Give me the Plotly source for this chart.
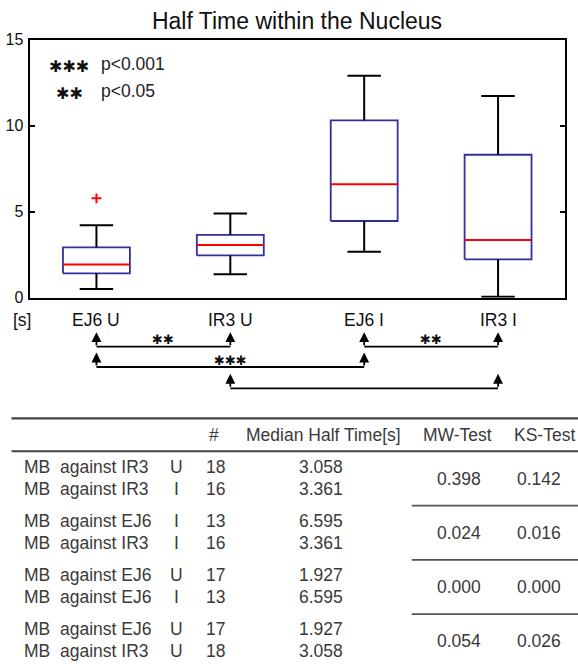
import plotly.graph_objects as go

# ---------------- data ----------------
categories = ["EJ6 U", "IR3 U", "EJ6 I", "IR3 I"]
q1 = [1.42, 2.46, 4.46, 2.23]
medians = [1.927, 3.058, 6.595, 3.361]
q3 = [2.93, 3.65, 10.31, 8.31]
whisker_low = [0.51, 1.36, 2.67, 0.06]
whisker_high = [4.21, 4.90, 12.90, 11.73]
outlier_cat = [1]
outlier_val = [5.78]

y_ticks = [0, 5, 10, 15]

# significance brackets (category index pairs, 1-based) and their labels
bracket_left = [1, 3, 1, 2]
bracket_right = [2, 4, 3, 4]
bracket_label = ["✱✱", "✱✱", "✱✱✱", ""]

legend_stars = ["✱✱✱", "✱✱"]
legend_text = ["p<0.001", "p<0.05"]

# table
tbl_header = ["#", "Median Half Time[s]", "MW-Test", "KS-Test"]
tbl_label = ["MB\u00a0\u00a0against IR3", "MB\u00a0\u00a0against IR3",
             "MB\u00a0\u00a0against EJ6", "MB\u00a0\u00a0against IR3",
             "MB\u00a0\u00a0against EJ6", "MB\u00a0\u00a0against EJ6",
             "MB\u00a0\u00a0against EJ6", "MB\u00a0\u00a0against IR3"]
tbl_state = ["U", "I", "I", "I", "U", "I", "U", "U"]
tbl_n = [18, 16, 13, 16, 17, 13, 17, 18]
tbl_median = [3.058, 3.361, 6.595, 3.361, 1.927, 6.595, 1.927, 3.058]
tbl_mw = [0.398, 0.024, 0.000, 0.054]
tbl_ks = [0.142, 0.016, 0.000, 0.026]

# ---------------- layout helpers ----------------
W, H = 578, 667
def yp(px):
    return 1 - px / H
def xp(px):
    return px / W

FONT = "Arial, Liberation Sans, Helvetica, sans-serif"
STAR_FONT = "DejaVu Sans"
BOX_C = "#30309a"
BOX_HW = 0.25
CAP_HW = 0.125
pos = list(range(1, len(categories) + 1))

fig = go.Figure()

# boxes
bx, by = [], []
for p, a, b in zip(pos, q1, q3):
    bx += [p - BOX_HW, p + BOX_HW, p + BOX_HW, p - BOX_HW, p - BOX_HW, None]
    by += [a, a, b, b, a, None]
fig.add_trace(go.Scatter(x=bx, y=by, mode="lines", line=dict(color=BOX_C, width=1.8),
                         hoverinfo="skip", showlegend=False))

# whiskers
wx, wy = [], []
for p, a, b, lo, hi in zip(pos, q1, q3, whisker_low, whisker_high):
    wx += [p, p, None, p, p, None, p - CAP_HW, p + CAP_HW, None, p - CAP_HW, p + CAP_HW, None]
    wy += [b, hi, None, a, lo, None, hi, hi, None, lo, lo, None]
fig.add_trace(go.Scatter(x=wx, y=wy, mode="lines", line=dict(color="black", width=2),
                         hoverinfo="skip", showlegend=False))

# medians
mx, my = [], []
for p, m in zip(pos, medians):
    mx += [p - BOX_HW, p + BOX_HW, None]
    my += [m, m, None]
fig.add_trace(go.Scatter(x=mx, y=my, mode="lines", line=dict(color="red", width=2),
                         hoverinfo="skip", showlegend=False))

# outliers
fig.add_trace(go.Scatter(x=outlier_cat, y=outlier_val, mode="markers",
                         marker=dict(symbol="cross-thin", size=7, line=dict(color="red", width=2)),
                         hoverinfo="skip", showlegend=False))

annotations = []
shapes = []

# category labels
for p, c in zip(pos, categories):
    annotations.append(dict(x=p, xref="x", y=yp(319.5), yref="paper", text=c, showarrow=False,
                            xanchor="center", yanchor="middle", font=dict(size=17.5, color="#111")))
annotations.append(dict(x=xp(21.7), xref="paper", y=yp(319.5), yref="paper", text="[s]", showarrow=False,
                        xanchor="center", yanchor="middle", font=dict(size=17.5, color="#111")))

# legend
leg_y = [66.5, 93.5]
leg_ty = [64.5, 91.5]
for s, t, y1, y2 in zip(legend_stars, legend_text, leg_y, leg_ty):
    annotations.append(dict(x=xp(69), xref="paper", y=yp(y1), yref="paper", text=s,
                            showarrow=False, xanchor="center", yanchor="middle",
                            font=dict(size=16, color="#111", family=STAR_FONT)))
    annotations.append(dict(x=xp(99), xref="paper", y=yp(y2), yref="paper", text=t,
                            showarrow=False, xanchor="left", yanchor="middle",
                            font=dict(size=17.5, color="#222")))

# brackets
line_y = [346.7, 346.7, 367.0, 388.3]
lab_y = [339.5, 339.5, 360.5, 0]
for L, R, lab, ly, ty in zip(bracket_left, bracket_right, bracket_label, line_y, lab_y):
    shapes.append(dict(type="line", xref="x", yref="paper", x0=L, x1=R, y0=yp(ly), y1=yp(ly),
                       line=dict(color="black", width=1.8)))
    for p in (L, R):
        annotations.append(dict(x=p, xref="x", y=yp(ly - 14.5), yref="paper", ax=0, ay=14.5,
                                axref="pixel", ayref="pixel", text="", showarrow=True,
                                arrowhead=2, arrowsize=1.1, arrowwidth=1.8, arrowcolor="black",
                                standoff=0, startstandoff=0))
    if lab:
        annotations.append(dict(x=(L + R) / 2, xref="x", y=yp(ty), yref="paper",
                                text=lab, showarrow=False, xanchor="center",
                                yanchor="middle", font=dict(size=13, color="#111", family=STAR_FONT)))

# ---------------- table ----------------
TC = "#3a3a3a"
TF = 17.5
shapes.append(dict(type="line", xref="paper", yref="paper", x0=xp(11.5), x1=1, y0=yp(418.3), y1=yp(418.3),
                   line=dict(color="#444", width=2.2)))
shapes.append(dict(type="line", xref="paper", yref="paper", x0=xp(11.5), x1=1, y0=yp(451.3), y1=yp(451.3),
                   line=dict(color="#444", width=2)))
hdr_x = [214, 323, 457.5, 544]
for t, x in zip(tbl_header, hdr_x):
    annotations.append(dict(x=xp(x), xref="paper", y=yp(435), yref="paper", text=t, showarrow=False,
                            xanchor="center", yanchor="middle", font=dict(size=TF, color=TC)))

for i in range(len(tbl_label)):
    g, r = divmod(i, 2)
    y = 466.7 + 54.2 * g + 21.8 * r
    annotations.append(dict(x=xp(21.7), xref="paper", y=yp(y), yref="paper", text=tbl_label[i],
                            showarrow=False, xanchor="left", yanchor="middle", font=dict(size=TF, color=TC)))
    annotations.append(dict(x=xp(177), xref="paper", y=yp(y), yref="paper", text=tbl_state[i],
                            showarrow=False, xanchor="center", yanchor="middle", font=dict(size=TF, color=TC)))
    annotations.append(dict(x=xp(215), xref="paper", y=yp(y), yref="paper", text=str(tbl_n[i]),
                            showarrow=False, xanchor="center", yanchor="middle", font=dict(size=TF, color=TC)))
    annotations.append(dict(x=xp(345), xref="paper", y=yp(y), yref="paper", text=f"{tbl_median[i]:.3f}",
                            showarrow=False, xanchor="right", yanchor="middle", font=dict(size=TF, color=TC)))

for g in range(len(tbl_mw)):
    yc = 466.7 + 54.2 * g + 10.9 + 1
    annotations.append(dict(x=xp(459), xref="paper", y=yp(yc), yref="paper", text=f"{tbl_mw[g]:.3f}",
                            showarrow=False, xanchor="center", yanchor="middle", font=dict(size=TF, color=TC)))
    annotations.append(dict(x=xp(539), xref="paper", y=yp(yc), yref="paper", text=f"{tbl_ks[g]:.3f}",
                            showarrow=False, xanchor="center", yanchor="middle", font=dict(size=TF, color=TC)))
    if g > 0:
        ys = 466.7 + 54.2 * g - 15.2
        shapes.append(dict(type="line", xref="paper", yref="paper", x0=xp(411.7), x1=1, y0=yp(ys), y1=yp(ys),
                           line=dict(color="#555", width=1.8)))

fig.update_layout(
    width=W, height=H,
    margin=dict(l=0, r=0, t=0, b=0, pad=0, autoexpand=False),
    paper_bgcolor="white", plot_bgcolor="white",
    font=dict(family=FONT, color="#111"),
    title=dict(text="Half Time within the Nucleus", x=xp(297), xref="paper", xanchor="center",
               y=yp(20.5), yref="container", yanchor="middle", automargin=False,
               font=dict(size=23, color="#111")),
    xaxis=dict(domain=[xp(29.5), xp(565)], range=[0.5, 4.5], showline=True, linecolor="black",
               linewidth=2, mirror=True, showgrid=False, zeroline=False, showticklabels=False,
               ticks="", fixedrange=True, automargin=False),
    yaxis=dict(domain=[yp(297.7), yp(39.7)], range=[0, 15], tickvals=y_ticks, showline=True,
               linecolor="black", linewidth=2, mirror="ticks", ticks="inside", ticklen=5,
               tickwidth=1.8, tickcolor="black", showgrid=False, zeroline=False,
               tickfont=dict(size=16, color="#111"), ticklabelstandoff=1, automargin=False,
               fixedrange=True),
    annotations=annotations,
    shapes=shapes,
    showlegend=False,
)

fig.write_html("out.html", config={"displayModeBar": False, "staticPlot": True},
               post_script="document.body.style.margin='0';document.body.style.overflow='hidden';")
